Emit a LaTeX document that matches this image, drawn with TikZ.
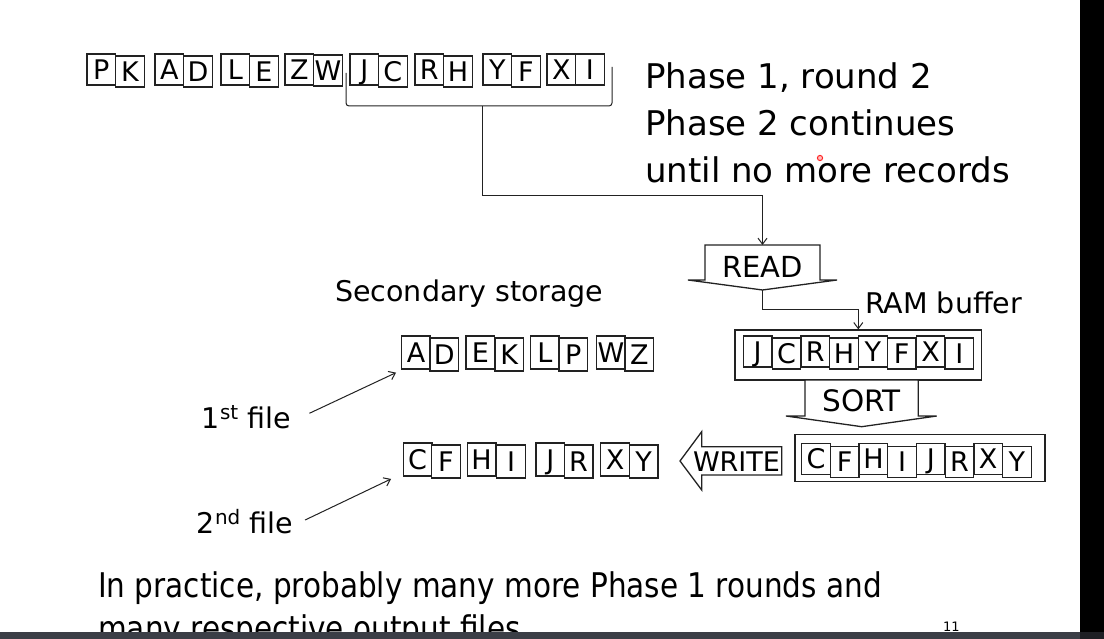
\documentclass[tikz,border=0pt]{standalone}
\usepackage{fontspec}
\setmainfont{DejaVu Sans}
\usetikzlibrary{arrows.meta}
\definecolor{ink}{HTML}{222222}
\definecolor{barA}{HTML}{3B3E46}
\definecolor{barB}{HTML}{1E1F24}
\tikzset{
  lbox/.style={draw=ink, line width=1.3pt, fill=white, minimum width=28.6pt, minimum height=31pt,
    inner sep=0pt, text height=19.7pt, text depth=0pt, font=\fontsize{27}{27}\selectfont},
  sbox/.style={lbox, minimum height=33pt},
  frame/.style={draw=ink, line width=1.3pt, fill=white, inner sep=0pt},
  conn/.style={draw=ink, line width=1pt},
  arr/.style={conn, -{Straight Barb[length=6pt,width=9pt,line width=1pt]}},
  txt/.style={anchor=base west, inner sep=0pt, font=\fontsize{28.5}{30}\selectfont},
  bigtxt/.style={anchor=base west, inner sep=0pt, font=\fontsize{34}{40}\selectfont},
  optxt/.style={anchor=base, inner sep=0pt},
  shapeline/.style={draw=ink, line width=1.3pt, fill=white, line join=miter},
}
\begin{document}
\begin{tikzpicture}[x=1pt,y=-1pt]
\useasboundingbox[fill=white] (0,0) rectangle (1104,639);

% ---- top row of records
\foreach \x/\l/\s [count=\i] in {101.3/P/0,129.9/K/2,169.3/A/0,197.9/D/2,235.3/L/0,263.9/E/2,
  299.3/Z/0,327.9/W/1,364.3/J/0,392.9/C/2,429.3/R/0,457.9/H/2,497.3/Y/0,525.9/F/2,561.3/X/0,589.9/I/0}
  \node[lbox] (t\i) at (\x,69.5+\s) {\l};

% bracket and stem
\draw[conn, rounded corners=3pt] (346,73) -- (346,106) -- (612,106) -- (612,67);
\coordinate (brk) at (482,106);

% ---- text top right
\node[bigtxt] (p1) at (645,89) {Phase 1, round 2};
\node[bigtxt] (p2) at (645,136) {Phase 2 continues};
\node[bigtxt] (p3) at (645,183) {until no more records};

% ---- READ shape
\coordinate (readtop) at (762.5,245);
\coordinate (readtip) at (762.5,290);
\draw[shapeline] (705,245) -- (820,245) -- (820,280) -- (837,280) -- (readtip) -- (688,280) -- (705,280) -- cycle;
\node[optxt, font=\fontsize{29}{30}\selectfont] (readlbl) at (762.5,278) {READ};
\draw[arr] (brk) -- ++(0,90) -| (readtop);

% ---- RAM buffer
\node[txt] (ramlbl) at (865,313) {RAM buffer};
\node[frame, minimum width=246.7pt, minimum height=50pt] (ram) at (858.3,355) {};
\foreach \x/\l [count=\i] in {757.7/J,786.5/C,815.3/R,844.1/H,872.9/Y,901.7/F,930.5/X,959.3/I}{
  \pgfmathsetmacro{\s}{mod(\i+1,2)*2}
  \node[lbox] (r\i) at (\x,351.5+\s) {\l};
}
\draw[arr] (readtip) -- ++(0,20) -| (ram.north);

% ---- SORT shape
\coordinate (sorttip) at (861.7,426.7);
\draw[shapeline] (805,380) -- (918.3,380) -- (918.3,416) -- (936.7,416) -- (sorttip) -- (786,416) -- (805,416) -- cycle;
\node[optxt, font=\fontsize{29.5}{30}\selectfont] (sortlbl) at (861.7,411.7) {SORT};

% ---- sorted buffer
\node[frame, minimum width=250pt, minimum height=47pt] (sorted) at (920,458.3) {};
\foreach \x/\l [count=\i] in {816/C,844.7/F,873.4/H,902.1/I,930.8/J,959.5/R,988.2/X,1016.9/Y}{
  \pgfmathsetmacro{\s}{mod(\i+1,2)*3}
  \node[lbox] (o\i) at (\x,459+\s) {\l};
}

% ---- WRITE arrow
\draw[shapeline] (781.7,446.7) -- (701.7,446.7) -- (701.7,431.7) -- (680,461) -- (701.7,490) -- (701.7,475) -- (781.7,475) -- cycle;
\node[optxt, font=\fontsize{27}{28}\selectfont] (writelbl) at (736.5,471.7) {WRITE};

% ---- secondary storage
\node[txt] (seclbl) at (335,301.7) {Secondary storage};
\foreach \x/\l/\s [count=\i] in {416/A/0,444.3/D/2,480.3/E/0,509.3/K/2,545/L/0,573.3/P/2,611/W/0,639.3/Z/2}
  \node[sbox] (a\i) at (\x,352.5+\s) {\l};
\foreach \x/\l/\s [count=\i] in {417.6/C/0,446/F/2,481.6/H/0,511/I/2,550.3/J/0,578.6/R/2,615/X/0,643.6/Y/2}
  \node[sbox] (b\i) at (\x,459.5+\s) {\l};

% ---- file labels
\node[txt] (f1) at (201.7,428.3) {1\textsuperscript{st} file};
\node[txt] (f2) at (196.7,533.3) {2\textsuperscript{nd} file};
\draw[arr] ([xshift=18pt,yshift=15pt]f1.base east) -- ([xshift=-5pt,yshift=-3pt]a1.south west);
\draw[arr] ([xshift=11.6pt,yshift=13.3pt]f2.base east) -- ([xshift=-11.6pt,yshift=-2.3pt]b1.south west);

% ---- bottom note
\node[bigtxt] (n1) at (98,597) {\scalebox{0.868}[1]{In practice, probably many more Phase 1 rounds and}};
\node[bigtxt] (n2) at (98,640) {\scalebox{0.868}[1]{many respective output files}};
\node[anchor=base west, inner sep=0pt, font=\fontsize{13}{14}\selectfont] (pg) at (943,631) {11};

% pointer dot
\draw[red!85, fill=red!25, line width=1pt] (820,158) circle (2.6pt);

% ---- screen bars
\fill[black] (1080,0) rectangle (1104,632);
\fill[barA] (0,632) rectangle (1080,639);
\fill[barB] (1080,632) rectangle (1104,639);
\end{tikzpicture}
\end{document}
